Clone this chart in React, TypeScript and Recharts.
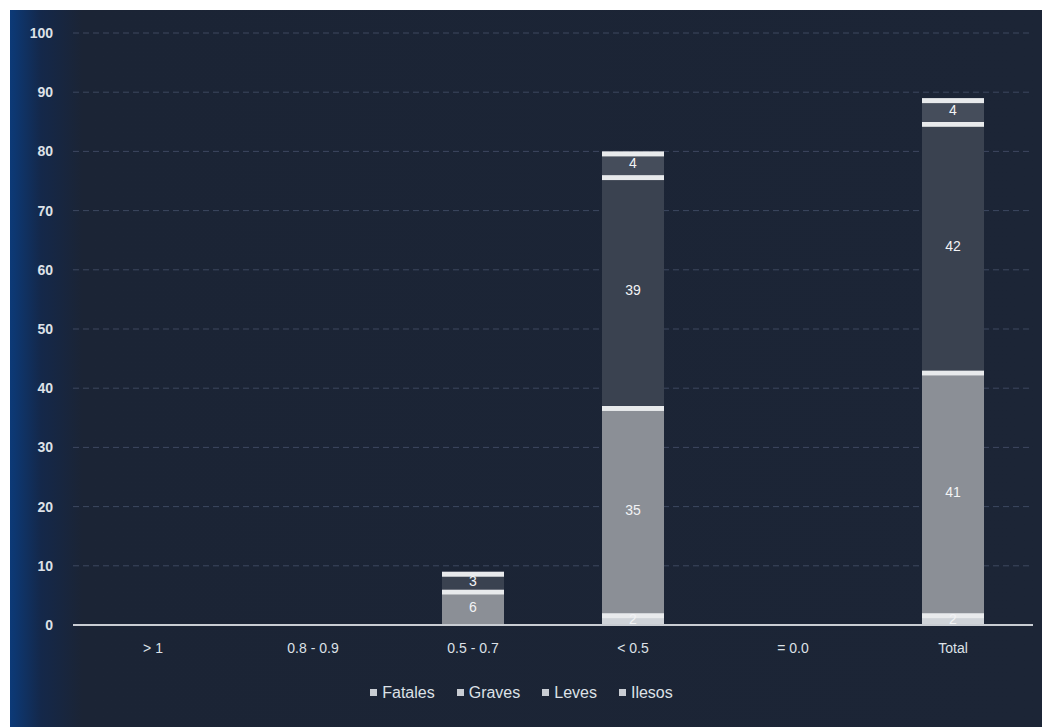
import { BarChart, Bar, XAxis, YAxis, CartesianGrid, Legend, LabelList } from 'recharts';

const categories = ['> 1', '0.8 - 0.9', '0.5 - 0.7', '< 0.5', '= 0.0', 'Total'];
const fatales = [0, 0, 0, 2, 0, 2];
const graves = [0, 0, 6, 35, 0, 41];
const leves = [0, 0, 3, 39, 0, 42];
const ilesos = [0, 0, 0, 4, 0, 4];
const yTicks = [0, 10, 20, 30, 40, 50, 60, 70, 80, 90, 100];

const data = categories.map((name, i) => ({
    name,
    Fatales: fatales[i],
    Graves: graves[i],
    Leves: leves[i],
    Ilesos: ilesos[i]
}));

const font = '"Liberation Sans", Arial, sans-serif';
const textColor = '#dde1e7';

// segment with a bright band on top, like the scanned Excel bars
const Segment = (props: any) => {
    const { x, y, width, height, fill } = props;
    if (!height || height <= 0) return null;
    const band = Math.min(5, height);
    return (
        <g>
            <rect x={x} y={y} width={width} height={height} fill={fill} />
            <rect x={x} y={y} width={width} height={band} fill="#e8eaec" />
        </g>
    );
};

const hideZero = (v: any) => (v ? v : '');

const series = [
    { key: 'Fatales', color: '#cfd3d8' },
    { key: 'Graves', color: '#8b8f96' },
    { key: 'Leves', color: '#3a4250' },
    { key: 'Ilesos', color: '#454d5b' }
];

const LegendContent = () => (
    <div style={{ display: 'flex', justifyContent: 'center', gap: 22, fontFamily: font, fontSize: 16, color: textColor }}>
        {series.map((s) => (
            <span key={s.key} style={{ display: 'inline-flex', alignItems: 'center', gap: 5 }}>
                <span style={{ width: 7, height: 7, background: '#c9cdd3', display: 'inline-block' }} />
                {s.key}
            </span>
        ))}
    </div>
);

export default function App() {
    return (
        <div style={{ position: 'absolute', left: 0, top: 0, width: 1042, height: 727, background: '#ffffff' }}>
            <div
                style={{
                    position: 'absolute',
                    left: 10,
                    top: 10,
                    width: 1032,
                    height: 717,
                    background: 'linear-gradient(to right, #0c3a78 0%, #14284a 3%, #1b2435 7%, #1c2536 100%)'
                }}
            >
                <BarChart
                    width={1032}
                    height={717}
                    data={data}
                    margin={{ top: 23, right: 9, left: 0, bottom: 12 }}
                    barSize={62}
                >
                    <CartesianGrid horizontal vertical={false} stroke="#46506a" strokeDasharray="6 4" strokeOpacity={0.8} />
                    <XAxis
                        dataKey="name"
                        height={45}
                        tickLine={false}
                        axisLine={{ stroke: '#c9cdd3', strokeWidth: 2 }}
                        tick={{ fill: textColor, fontSize: 14, fontFamily: font }}
                        tickMargin={12}
                    />
                    <YAxis
                        width={63}
                        domain={[0, 100]}
                        ticks={yTicks}
                        axisLine={false}
                        tickLine={false}
                        tick={{ fill: textColor, fontSize: 14, fontFamily: font, fontWeight: 'bold' }}
                        tickMargin={14}
                    />
                    <Legend
                        verticalAlign="bottom"
                        content={<LegendContent />}
                        wrapperStyle={{ height: 45, lineHeight: '45px' }}
                    />
                    {series.map((s) => (
                        <Bar
                            key={s.key}
                            dataKey={s.key}
                            stackId="a"
                            fill={s.color}
                            shape={<Segment />}
                            isAnimationActive={false}
                        >
                            <LabelList
                                dataKey={s.key}
                                position="center"
                                formatter={hideZero}
                                fill="#f2f3f5"
                                fontSize={14}
                                fontFamily={font}
                            />
                        </Bar>
                    ))}
                </BarChart>
            </div>
        </div>
    );
}
